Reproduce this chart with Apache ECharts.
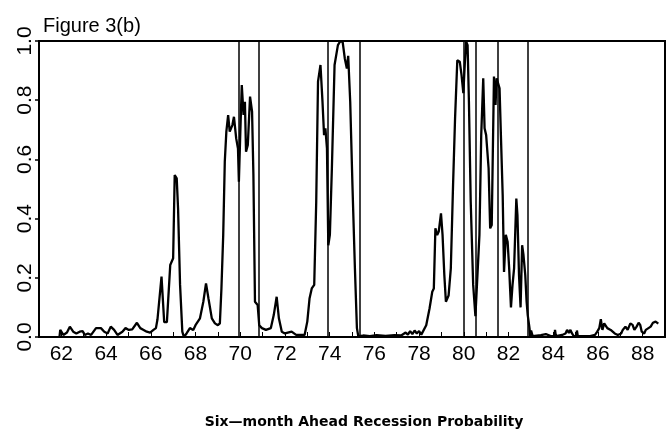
<!DOCTYPE html>
<html>
<head>
<meta charset="utf-8">
<script src="https://cdn.jsdelivr.net/npm/echarts@6/dist/echarts.min.js"></script>
<style>
html,body{margin:0;padding:0;background:#fff;}
#chart{width:668px;height:429px;}
</style>
</head>
<body>
<div id="chart"></div>
<script>
// Time (years of the 1900s) and six-month ahead recession probability
var years = [
61.92,61.95,62.09,62.25,62.38,62.53,62.67,62.82,62.95,63.05,63.19,63.33,63.55,63.65,63.77,63.92,
64.07,64.21,64.36,64.51,64.73,64.87,65.02,65.17,65.38,65.53,65.68,65.82,65.97,66.12,66.23,66.3,
66.48,66.6,66.72,66.87,67.0,67.07,67.16,67.22,67.31,67.41,67.48,67.6,67.75,67.9,68.0,68.2,
68.35,68.47,68.58,68.73,68.87,69.0,69.09,69.16,69.24,69.31,69.38,69.46,69.53,69.65,69.72,69.82,
69.9,69.94,70.0,70.07,70.15,70.21,70.26,70.34,70.44,70.53,70.59,70.66,70.78,70.85,70.97,71.15,
71.37,71.5,71.63,71.73,71.86,72.0,72.3,72.5,72.88,73.0,73.1,73.2,73.31,73.4,73.48,73.59,
73.68,73.75,73.81,73.88,73.94,74.01,74.1,74.22,74.37,74.48,74.58,74.68,74.77,74.83,74.92,75.02,
75.13,75.22,75.28,75.5,75.8,76.1,76.5,76.9,77.2,77.4,77.5,77.6,77.7,77.8,77.9,78.0,
78.1,78.18,78.32,78.47,78.59,78.66,78.73,78.81,78.88,78.98,79.05,79.13,79.2,79.32,79.42,79.52,
79.61,79.71,79.82,79.9,79.98,80.05,80.11,80.17,80.23,80.31,80.42,80.52,80.58,80.7,80.78,80.87,
80.93,81.0,81.11,81.18,81.25,81.35,81.42,81.47,81.55,81.6,81.66,81.74,81.8,81.88,81.96,82.03,
82.11,82.18,82.25,82.35,82.4,82.47,82.54,82.61,82.67,82.75,82.81,82.86,82.94,82.97,83.01,83.08,
83.16,83.45,83.67,83.89,84.06,84.08,84.12,84.4,84.55,84.62,84.7,84.77,84.84,84.92,85.04,85.06,
85.1,85.35,85.65,85.87,85.97,86.06,86.13,86.2,86.28,86.35,86.42,86.5,86.57,86.75,86.89,87.04,
87.11,87.23,87.33,87.45,87.55,87.63,87.73,87.82,87.89,87.96,88.07,88.14,88.26,88.36,88.46,88.58,
88.7
];
var probs = [
0.003,0.024,0.007,0.015,0.035,0.018,0.012,0.018,0.02,0.007,0.012,0.007,0.03,0.03,0.03,0.018,
0.012,0.035,0.024,0.007,0.018,0.03,0.024,0.026,0.048,0.03,0.024,0.018,0.015,0.024,0.03,0.06,
0.204,0.05,0.05,0.243,0.266,0.547,0.536,0.435,0.176,0.018,0.0,0.012,0.03,0.024,0.04,0.063,
0.119,0.181,0.13,0.063,0.046,0.04,0.046,0.164,0.345,0.592,0.694,0.75,0.694,0.716,0.744,0.671,
0.637,0.525,0.68,0.851,0.75,0.795,0.626,0.649,0.812,0.761,0.547,0.119,0.108,0.04,0.03,0.024,
0.03,0.074,0.136,0.063,0.018,0.012,0.018,0.007,0.007,0.052,0.13,0.164,0.176,0.457,0.863,0.919,
0.795,0.682,0.705,0.637,0.31,0.345,0.57,0.919,0.986,1.0,0.998,0.94,0.907,0.95,0.795,0.513,
0.232,0.03,0.003,0.005,0.003,0.006,0.004,0.006,0.005,0.015,0.008,0.02,0.01,0.022,0.012,0.02,
0.008,0.012,0.04,0.097,0.153,0.164,0.367,0.345,0.356,0.418,0.345,0.209,0.119,0.14,0.232,0.513,
0.739,0.935,0.93,0.885,0.824,0.93,0.998,0.986,0.795,0.457,0.176,0.07,0.065,0.345,0.682,0.874,
0.705,0.682,0.57,0.367,0.378,0.88,0.784,0.874,0.874,0.84,0.682,0.48,0.22,0.345,0.322,0.232,
0.1,0.176,0.232,0.468,0.412,0.209,0.1,0.31,0.277,0.209,0.119,0.074,0.03,0.003,0.022,0.003,
0.003,0.006,0.01,0.003,0.003,0.024,0.003,0.007,0.012,0.024,0.014,0.024,0.012,0.003,0.003,0.022,
0.003,0.003,0.003,0.007,0.018,0.03,0.06,0.024,0.046,0.041,0.03,0.035,0.024,0.012,0.007,0.012,
0.024,0.035,0.024,0.046,0.041,0.024,0.035,0.048,0.041,0.018,0.012,0.024,0.03,0.035,0.048,0.052,
0.045
];
// Recession boundaries drawn as vertical lines
var recessionLines = [69.94, 70.83, 73.91, 75.33, 80.01, 80.52, 81.52, 82.86];
// Axis ticks
var xTickLabels = [62,64,66,68,70,72,74,76,78,80,82,84,86,88];
var yTickLabels = [0.0,0.2,0.4,0.6,0.8,1.0];

var seriesData = years.map(function(y, i){ return [y, probs[i]]; });

var chart = echarts.init(document.getElementById('chart'), null, {renderer:'canvas'});
var tickFont = 'Liberation Sans, Arial, Helvetica, sans-serif';
chart.setOption({
  animation: false,
  backgroundColor: '#fff',
  title: [
    {text: 'Figure 3(b)', left: 38, top: 11,
     textStyle: {fontFamily: tickFont, fontSize: 20, fontWeight: 'normal', color: '#000'}},
    {text: 'Six\u2014month Ahead Recession Probability', left: 359, top: 410, textAlign: 'center',
     textStyle: {fontFamily: 'DejaVu Sans, sans-serif', fontSize: 14, fontWeight: 'bold', color: '#000'}}
  ],
  grid: {left: 39, top: 41, width: 637, height: 296, show: true,
         borderColor: '#000', borderWidth: 2, backgroundColor: 'transparent'},
  xAxis: {
    type: 'value', min: 61, max: 89, interval: 1,
    axisLine: {show: true, onZero: false, lineStyle: {color: '#000', width: 2}},
    axisTick: {show: true, inside: true, length: 5, lineStyle: {color: '#000', width: 1}},
    splitLine: {show: false},
    axisLabel: {
      show: true, margin: 7, color: '#000', fontFamily: tickFont, fontSize: 21,
      showMinLabel: true, showMaxLabel: true,
      formatter: function(v){ return xTickLabels.indexOf(Math.round(v)) >= 0 && Math.abs(v - Math.round(v)) < 1e-6 ? String(Math.round(v)) : ''; }
    }
  },
  yAxis: {
    type: 'value', min: 0, max: 1, interval: 0.2,
    axisLine: {show: true, lineStyle: {color: '#000', width: 2}},
    axisTick: {show: true, inside: false, length: 4, lineStyle: {color: '#000', width: 1.5}},
    splitLine: {show: false},
    axisLabel: {
      show: true, rotate: 90, margin: 3, color: '#000', fontFamily: tickFont, fontSize: 21,
      formatter: function(v){
        for (var i = 0; i < yTickLabels.length; i++) {
          if (Math.abs(yTickLabels[i] - v) < 1e-6) return yTickLabels[i].toFixed(1);
        }
        return '';
      }
    }
  },
  series: [{
    type: 'line',
    data: seriesData,
    showSymbol: false,
    symbol: 'none',
    lineStyle: {color: '#000', width: 2.3},
    clip: true,
    markLine: {
      silent: true,
      symbol: ['none','none'],
      label: {show: false},
      lineStyle: {color: '#000', width: 1.5, type: 'solid'},
      data: recessionLines.map(function(x){ return {xAxis: x}; })
    }
  }]
});
</script>
</body>
</html>
